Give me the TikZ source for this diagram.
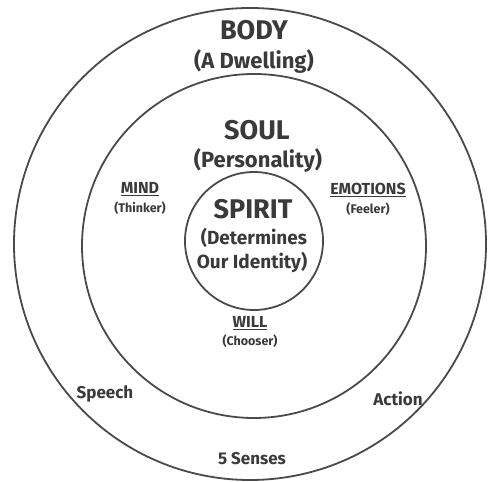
\documentclass[tikz,border=0pt]{standalone}
\usepackage{fontspec}
\setmainfont{Fira Sans}
\definecolor{ink}{HTML}{3A3A3A}
\definecolor{ring}{HTML}{4A4A48}
\begin{document}
\begin{tikzpicture}[x=1pt,y=1pt,
  ringline/.style={draw=ring,line width=1.8pt},
  lbl/.style={text=ink,inner sep=0pt,anchor=center},
  big/.style={lbl,font=\fontsize{27}{27}\selectfont\bfseries},
  sub/.style={lbl,font=\fontsize{22}{22}\selectfont\bfseries},
  spsub/.style={lbl,font=\fontsize{19}{19}\selectfont\bfseries},
  small/.style={lbl,font=\fontsize{16}{16}\selectfont\bfseries},
  tiny/.style={lbl,font=\fontsize{12.5}{12.5}\selectfont\bfseries},
  mid/.style={lbl,font=\fontsize{17}{17}\selectfont\bfseries}]
\useasboundingbox (0,0) rectangle (489,481);
\fill[white] (0,0) rectangle (489,481);
% circles (y = 481 - py)
\node[ringline,circle,minimum size=472pt,inner sep=0pt] (outer) at (250,237) {};
\node[ringline,circle,minimum size=344pt,inner sep=0pt] (middle) at (254,235) {};
\node[ringline,circle,minimum size=138pt,inner sep=0pt] (inner) at (254,240) {};
% body
\node[big] (body) at (254,451) {BODY};
\node[sub] (bodysub) at (254,419) {(A Dwelling)};
% soul
\node[big] (soul) at (257,351) {SOUL};
\node[sub] (soulsub) at (258,321) {(Personality)};
% spirit
\node[big] (spirit) at (253,272) {SPIRIT};
\node[spsub] (spirit1) at (254,243) {(Determines};
\node[spsub] (spirit2) at (252,219) {Our Identity)};
% faculties
\node[small] (mind) at (140,292) {\underline{MIND}};
\node[tiny] (mindsub) at (140,273) {(Thinker)};
\node[small] (emo) at (368,291) {\underline{EMOTIONS}};
\node[tiny] (emosub) at (368,272) {(Feeler)};
\node[small] (will) at (250,158) {\underline{WILL}};
\node[tiny] (willsub) at (250,140) {(Chooser)};
% body functions
\node[mid] (speech) at (105,87) {Speech};
\node[mid] (action) at (398,82) {Action};
\node[mid] (senses) at (252,22) {5 Senses};
\end{tikzpicture}
\end{document}
